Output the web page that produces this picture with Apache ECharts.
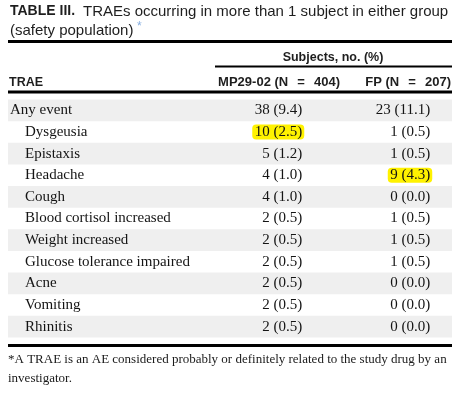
<!DOCTYPE html>
<html><head><meta charset="utf-8">
<script src="https://cdn.jsdelivr.net/npm/echarts@6/dist/echarts.min.js"></script>
<style>html,body{margin:0;padding:0;background:#fff}#c{width:465px;height:403px}</style>
</head><body><div id="c"></div>
<script>
// ---- data ----
const titleBold = 'TABLE III.';
const titleLine1 = 'TRAEs occurring in more than 1 subject in either group';
const titleLine2 = '(safety population)';
const groupHeader = 'Subjects, no. (%)';
const firstColHeader = 'TRAE';
const colHeaders = ['MP29-02 (N\u2002\u2009=\u2002\u2009404)', 'FP (N\u2002\u2009=\u2002\u2009207)'];
const trae = ['Any event','Dysgeusia','Epistaxis','Headache','Cough','Blood cortisol increased','Weight increased','Glucose tolerance impaired','Acne','Vomiting','Rhinitis'];
const indentLevel = [0,1,1,1,1,1,1,1,1,1,1];
const mpCount = [38,10,5,4,4,2,2,2,2,2,2];
const mpPct   = [9.4,2.5,1.2,1.0,1.0,0.5,0.5,0.5,0.5,0.5,0.5];
const fpCount = [23,1,1,9,0,1,1,1,0,0,0];
const fpPct   = [11.1,0.5,0.5,4.3,0.0,0.5,0.5,0.5,0.0,0.0,0.0];
const mpHighlight = ['Dysgeusia'];
const fpHighlight = ['Headache'];
const footnote = ['*A TRAE is an AE considered probably or definitely related to the study drug by an', 'investigator.'];

// ---- rendering ----
const SERIF = '"Liberation Serif", "Times New Roman", serif';
const SANS = '"Liberation Sans", Arial, sans-serif';
const bodyFont = '15px ' + SERIF;
const mctx = document.createElement('canvas').getContext('2d');
function tw(t, f){ mctx.font = f; return mctx.measureText(t).width; }
function cell(n, p){ return n + ' (' + p.toFixed(1) + ')'; }

const rows = trae.map((t, i) => [i, t, indentLevel[i], cell(mpCount[i], mpPct[i]), cell(fpCount[i], fpPct[i]),
  mpHighlight.includes(t) ? 1 : 0, fpHighlight.includes(t) ? 1 : 0]);

const colDecimal = [286, 414];
function valueText(str, decX, y, hl){
  const k = str.lastIndexOf('.');
  const left = str.slice(0, k), right = str.slice(k);
  const lw = tw(left, bodyFont), rw = tw(right, bodyFont);
  const out = [];
  if (hl) out.push({type:'rect', shape:{x:decX - lw - 2.5, y:y - 7.5, width:lw + rw + 4.5, height:15, r:4}, style:{fill:'#fff200'}});
  out.push({type:'text', style:{text:left, x:decX, y:y, font:bodyFont, fill:'#141414', align:'right', verticalAlign:'middle'}});
  out.push({type:'text', style:{text:right, x:decX, y:y, font:bodyFont, fill:'#141414', align:'left', verticalAlign:'middle'}});
  return out;
}

function renderItem(params, api){
  const i = api.value(0);
  const r = rows[i];
  const yc = api.coord([0, i])[1];
  const h = api.size([0, 1])[1];
  const ch = [];
  if (i % 2 === 0) {
    const xa = api.coord([8, i])[0], xb = api.coord([452, i])[0];
    ch.push({type:'rect', shape:{x:xa, y:yc - h/2, width:xb - xa, height:h}, style:{fill:'#efefef'}});
  }
  ch.push({type:'text', style:{text:r[1], x:api.coord([r[2] ? 25 : 10, i])[0], y:yc, font:bodyFont, fill:'#141414', align:'left', verticalAlign:'middle'}});
  valueText(r[3], api.coord([colDecimal[0], i])[0], yc, r[5]).forEach(e => ch.push(e));
  valueText(r[4], api.coord([colDecimal[1], i])[0], yc, r[6]).forEach(e => ch.push(e));
  return {type:'group', children:ch};
}

const chart = echarts.init(document.getElementById('c'), null, {renderer:'canvas'});
const txt = (text, x, y, font, fill, align) => ({type:'text', x:0, y:0, style:{text, x, y, font, fill:fill || '#1a1a1a', align:align || 'left', verticalAlign:'middle'}});
const line = (x1, y1, x2, y2, w) => ({type:'line', shape:{x1, y1, x2, y2}, style:{stroke:'#000', lineWidth:w}});

chart.setOption({
  animation:false,
  backgroundColor:'#fff',
  grid:{left:0, right:0, top:99.5, bottom:65.5},
  xAxis:{type:'value', min:0, max:465, show:false},
  yAxis:{type:'category', data:trae, inverse:true, show:false},
  series:[{type:'custom', renderItem, data:rows, clip:false}],
  graphic:[
    txt(titleBold, 10, 11.5, 'bold 14px ' + SANS, '#1e1e1e'),
    txt(titleLine1, 83, 11.5, '15px ' + SANS, '#1e1e1e'),
    txt(titleLine2, 10, 30.5, '15px ' + SANS, '#1e1e1e'),
    txt('*', 137, 27, '12px ' + SANS, '#86aee0'),
    line(8, 41.5, 452, 41.5, 3),
    txt(groupHeader, 333, 57.5, 'bold 12.5px ' + SANS, '#1e1e1e', 'center'),
    line(215, 66.5, 452, 66.5, 2),
    txt(firstColHeader, 9, 82.5, 'bold 12.5px ' + SANS, '#1e1e1e'),
    txt(colHeaders[0], 340, 82.5, 'bold 13px ' + SANS, '#1e1e1e', 'right'),
    txt(colHeaders[1], 451, 82.5, 'bold 13px ' + SANS, '#1e1e1e', 'right'),
    line(8, 92, 452, 92, 3),
    line(8, 345.5, 452, 345.5, 3),
    txt(footnote[0], 8, 360, '13px ' + SERIF, '#1a1a1a'),
    txt(footnote[1], 8, 379, '13px ' + SERIF, '#1a1a1a')
  ]
});
</script></body></html>
